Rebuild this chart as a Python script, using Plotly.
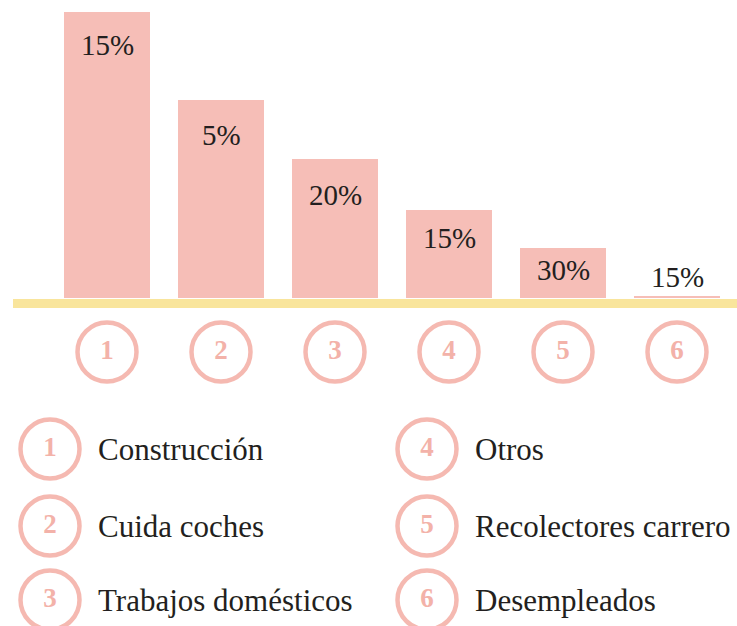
import plotly.graph_objects as go

# Occupation groups, bar heights (chart units) and the percentage printed on each bar
categories = ["1", "2", "3", "4", "5", "6"]
bar_heights = [286, 198, 139, 88, 50, 2]
pct_labels = ["15%", "5%", "20%", "15%", "30%", "15%"]
occupations = ["Construcción", "Cuida coches", "Trabajos domésticos",
               "Otros", "Recolectores carrero", "Desempleados"]

# Style
PINK = "#F6BEB7"
RING = "#F5B9B1"
DIGIT = "#F3B2A9"
YELLOW = "#F9E59C"
INK = "#231F20"
SERIF = "Liberation Serif, Times New Roman, serif"

W, H = 737, 626
x_pos = list(range(len(categories)))

fig = go.Figure()

# Bars
fig.add_trace(go.Bar(
    x=x_pos, y=bar_heights, width=0.76,
    marker=dict(color=PINK, line=dict(width=0)),
    hoverinfo="skip", showlegend=False,
))

# Numbered rings under each bar
ring_marker = dict(size=59, color="white", line=dict(color=RING, width=4.5))
ring_font = dict(family=SERIF, size=27, color=DIGIT, weight="bold")
fig.add_trace(go.Scatter(
    x=x_pos, y=[-54] * len(categories),
    mode="markers+text", text=categories,
    textposition="middle center", textfont=ring_font,
    marker=ring_marker, hoverinfo="skip", showlegend=False,
))

# Percentage labels on the bars
label_shift = [-33, -35, -36, -28, -22, 19]
for i, (h, t) in enumerate(zip(bar_heights, pct_labels)):
    fig.add_annotation(
        x=i, y=h, text=t, showarrow=False, yshift=label_shift[i],
        xanchor="center", yanchor="middle",
        font=dict(family=SERIF, size=29, color=INK),
    )

# Key: ring + occupation name, two columns
key_x = [50, 50, 50, 427, 427, 427]
key_y = [449, 526, 600, 449, 526, 600]
fig.add_trace(go.Scatter(
    x=key_x, y=key_y, xaxis="x2", yaxis="y2",
    mode="markers+text", text=categories,
    textposition="middle center", textfont=ring_font,
    marker=ring_marker, hoverinfo="skip", showlegend=False,
))
for kx, ky, name in zip(key_x, key_y, occupations):
    fig.add_annotation(
        x=kx + 46, y=ky, xref="x2", yref="y2", text=name, showarrow=False,
        xanchor="left", yanchor="middle",
        font=dict(family=SERIF, size=31, color=INK),
    )

# Yellow baseline band
fig.add_shape(
    type="rect", xref="paper", yref="y",
    x0=13 / W, x1=1.0, y0=-1, y1=-10,
    fillcolor=YELLOW, line=dict(width=0), layer="below",
)

x_lo = (0 - 107) / 114
x_hi = (W - 107) / 114
fig.update_layout(
    width=W, height=H,
    margin=dict(l=0, r=0, t=0, b=0),
    paper_bgcolor="white", plot_bgcolor="white",
    bargap=0,
    xaxis=dict(range=[x_lo, x_hi], visible=False, fixedrange=True),
    yaxis=dict(range=[298 - H, 298], visible=False, fixedrange=True),
    xaxis2=dict(range=[0, W], overlaying="x", visible=False, fixedrange=True),
    yaxis2=dict(range=[H, 0], overlaying="y", visible=False, fixedrange=True),
)

fig.write_html("out.html", config={"displayModeBar": False})
